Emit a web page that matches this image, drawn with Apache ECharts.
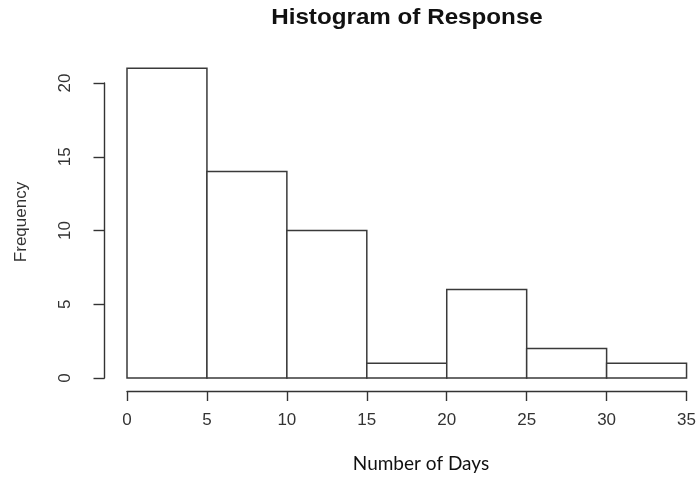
<!DOCTYPE html>
<html>
<head>
<meta charset="utf-8">
<script src="https://cdn.jsdelivr.net/npm/echarts@6/dist/echarts.min.js"></script>
<style>
  html, body { margin: 0; padding: 0; background: #fff; }
  #chart { width: 699px; height: 477px; }
</style>
</head>
<body>
<div id="chart"></div>
<script>
// Histogram bins (days) and counts
const binStarts = [0, 5, 10, 15, 20, 25, 30];
const binEnds = [5, 10, 15, 20, 25, 30, 35];
const counts = [21, 14, 10, 1, 6, 2, 1];
const xTicks = [0, 5, 10, 15, 20, 25, 30, 35];
const yTicks = [0, 5, 10, 15, 20];

const chart = echarts.init(document.getElementById('chart'), null, { renderer: 'canvas' });

const data = binStarts.map((s, i) => [s, binEnds[i], counts[i]]);

const axisColor = '#333';
const labelFont = 'Liberation Sans, Arial, sans-serif';

chart.setOption({
  animation: false,
  backgroundColor: '#fff',
  graphic: [
    {
      type: 'text',
      x: 407, y: 18,
      scaleX: 1.1,
      style: {
        text: 'Histogram of Response',
        textAlign: 'center', textVerticalAlign: 'middle',
        font: 'bold 22px "Liberation Sans", Arial, sans-serif',
        fill: '#111'
      }
    },
    {
      type: 'text',
      x: 421, y: 464,
      style: {
        text: 'Number of Days',
        textAlign: 'center', textVerticalAlign: 'middle',
        font: '19px Lato, "Open Sans", sans-serif',
        fill: '#111'
      }
    },
    {
      type: 'text',
      rotation: Math.PI / 2,
      x: 21, y: 222,
      style: {
        text: 'Frequency',
        textAlign: 'center', textVerticalAlign: 'middle',
        font: '17px "Liberation Sans", Arial, sans-serif',
        fill: '#333'
      }
    }
  ],
  grid: { left: 127, right: 9, top: 83, bottom: 99, containLabel: false },
  xAxis: {
    type: 'value',
    min: 0, max: 35, interval: 5,
    offset: 13,
    axisLine: { show: true, onZero: false, lineStyle: { color: axisColor, width: 1.4 } },
    axisTick: { show: true, length: 10, lineStyle: { color: axisColor, width: 1.4 } },
    axisLabel: { margin: 21, fontSize: 17, color: '#333', fontFamily: labelFont, formatter: v => String(v) },
    splitLine: { show: false }
  },
  yAxis: {
    type: 'value',
    min: 0, max: 20, interval: 5,
    offset: 22.5,
    axisLine: { show: true, onZero: false, lineStyle: { color: axisColor, width: 1.4 } },
    axisTick: { show: true, length: 11, lineStyle: { color: axisColor, width: 1.4 } },
    axisLabel: { rotate: 90, margin: 31, fontSize: 17, color: '#333', fontFamily: labelFont, align: 'center', verticalAlign: 'bottom' },
    splitLine: { show: false }
  },
  series: [{
    type: 'custom',
    clip: false,
    data: data,
    encode: { x: [0, 1], y: 2 },
    renderItem: function (params, api) {
      const p0 = api.coord([api.value(0), 0]);
      const p1 = api.coord([api.value(1), api.value(2)]);
      return {
        type: 'rect',
        shape: { x: p0[0], y: p1[1], width: p1[0] - p0[0], height: p0[1] - p1[1] },
        style: { fill: '#fff', stroke: '#3a3a3a', lineWidth: 1.5 }
      };
    }
  }]
});
</script>
</body>
</html>
